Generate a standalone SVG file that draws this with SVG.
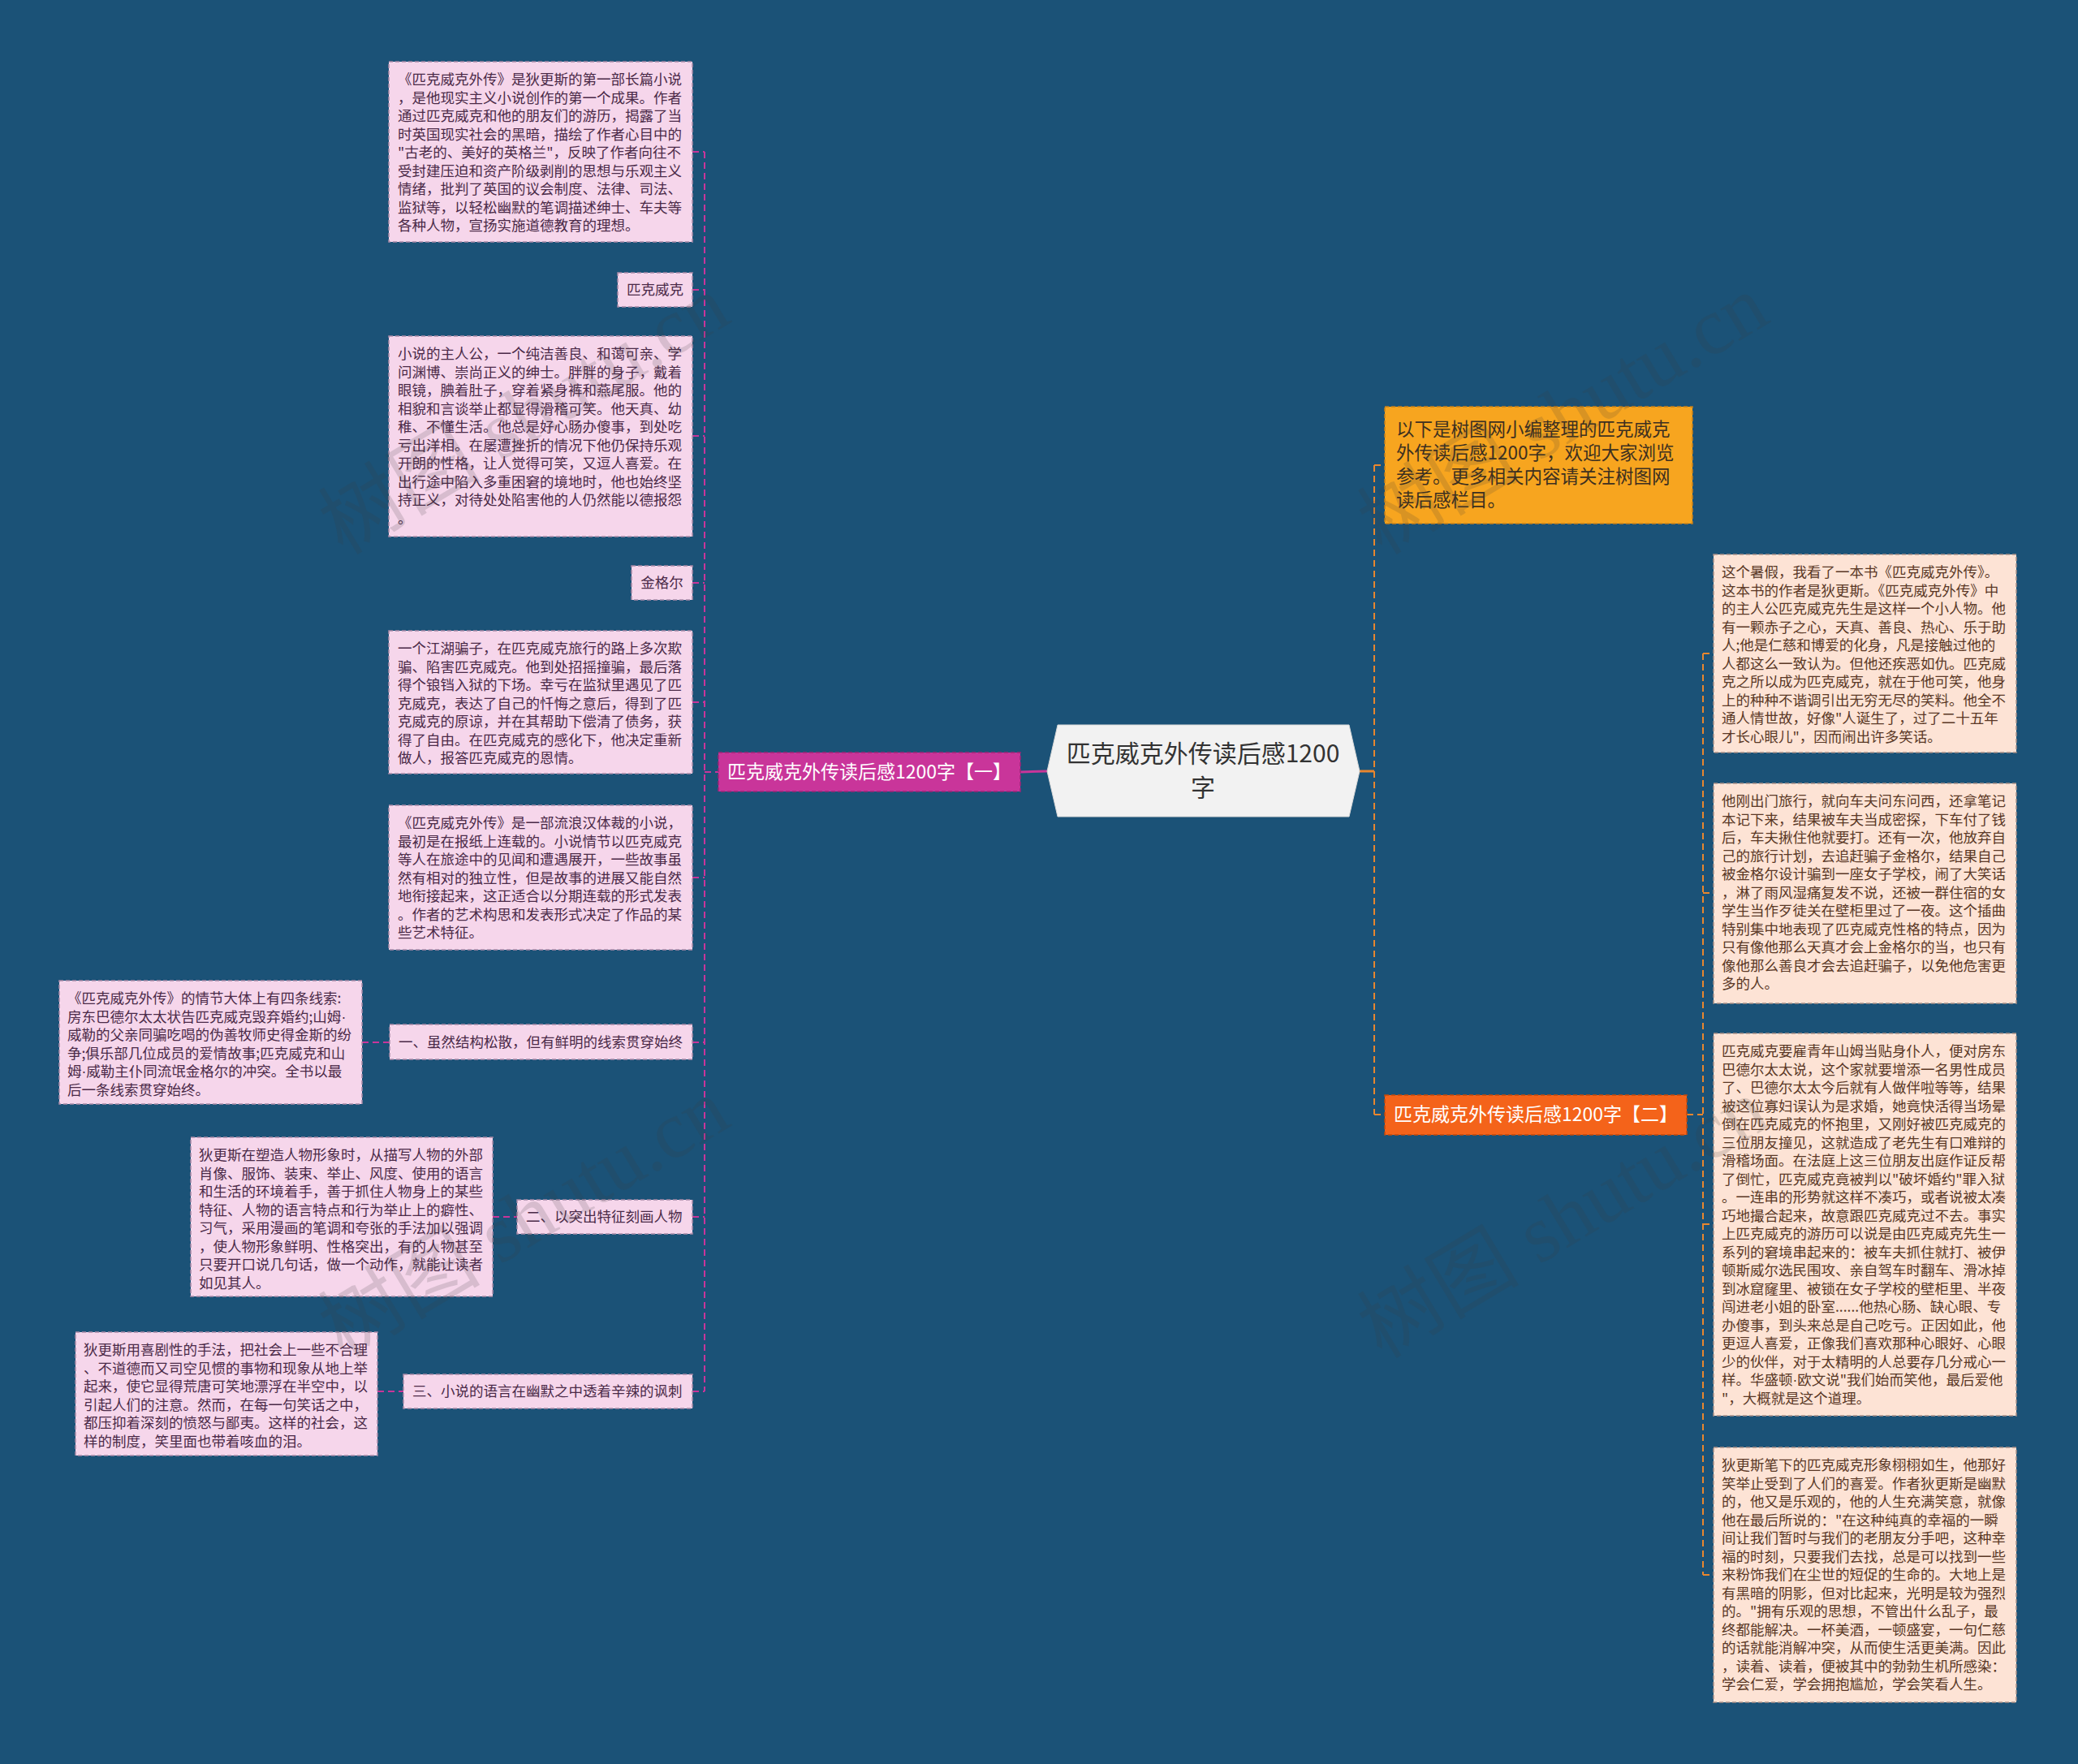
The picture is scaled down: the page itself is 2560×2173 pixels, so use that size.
<svg xmlns="http://www.w3.org/2000/svg" width="2560" height="2173" viewBox="0 0 2560 2173">
<style>
.lbox{fill:#f6d6eb;stroke:#a88aa8;stroke-width:1.5;stroke-dasharray:5 3}
.rbox{fill:#fde3d5;stroke:#a89088;stroke-width:1.5;stroke-dasharray:5 3}
.f{font-family:"Noto Sans CJK SC","Noto Sans",sans-serif}
.t{font-family:"Noto Sans CJK SC","Noto Sans",sans-serif;font-size:17.5px}
.lt{fill:#4b2a48}
.rt{fill:#5a3826}
.dot{font-family:"Liberation Sans",sans-serif}
.cm{stroke:#c9359a;stroke-width:2;stroke-dasharray:8 5;fill:none}
.co{stroke:#e8862e;stroke-width:2;stroke-dasharray:8 5;fill:none}
.wm{font-family:"Liberation Serif","Noto Sans CJK SC",serif;font-size:100px;fill:#3c3c3c;opacity:0.16}
</style>
<rect width="2560" height="2173" fill="#1b5277"/>

<g id="connectors">
  <line x1="1257" y1="951" x2="1290" y2="950" stroke="#c9359a" stroke-width="3"/>
  <line class="cm" x1="868" y1="951" x2="885" y2="951"/>
  <line class="cm" x1="868" y1="187" x2="868" y2="1714"/>
  <line class="cm" x1="853" y1="187" x2="868" y2="187"/>
  <line class="cm" x1="853" y1="357" x2="868" y2="357"/>
  <line class="cm" x1="853" y1="537" x2="868" y2="537"/>
  <line class="cm" x1="853" y1="718" x2="868" y2="718"/>
  <line class="cm" x1="853" y1="865" x2="868" y2="865"/>
  <line class="cm" x1="853" y1="1081" x2="868" y2="1081"/>
  <line class="cm" x1="853" y1="1284" x2="868" y2="1284"/>
  <line class="cm" x1="853" y1="1499" x2="868" y2="1499"/>
  <line class="cm" x1="853" y1="1714" x2="868" y2="1714"/>
  <line class="cm" x1="446" y1="1284" x2="480" y2="1284"/>
  <line class="cm" x1="607" y1="1499" x2="637" y2="1499"/>
  <line class="cm" x1="465" y1="1714" x2="497" y2="1714"/>
  <line x1="1675" y1="950" x2="1693" y2="950" stroke="#e8862e" stroke-width="3"/>
  <line class="co" x1="1693" y1="573" x2="1693" y2="1373"/>
  <line class="co" x1="1693" y1="573" x2="1706" y2="573" stroke="#f0a020"/>
  <line class="co" x1="1693" y1="1373" x2="1706" y2="1373"/>
  <line class="co" x1="2078" y1="1373" x2="2098" y2="1373"/>
  <line class="co" x1="2098" y1="805" x2="2098" y2="1940"/>
  <line class="co" x1="2098" y1="805" x2="2111" y2="805"/>
  <line class="co" x1="2098" y1="1100" x2="2111" y2="1100"/>
  <line class="co" x1="2098" y1="1508" x2="2111" y2="1508"/>
  <line class="co" x1="2098" y1="1940" x2="2111" y2="1940"/>
</g>

<g id="center">
  <polygon points="1290,950 1303,893 1662,893 1675,950 1662,1006 1303,1006" fill="#f2f2f2" stroke="#d8d8d8" stroke-width="1"/>
  <text class="f" x="1482" y="939" text-anchor="middle" font-size="30" fill="#333333">匹克威克外传读后感1200</text>
  <text class="f" x="1482" y="981" text-anchor="middle" font-size="30" fill="#333333">字</text>
</g>

<g id="branch1">
  <rect x="885" y="927" width="372" height="48" fill="#c9359a" stroke="#9e2578" stroke-width="1.5" stroke-dasharray="5 3"/>
  <text class="f" x="1071" y="959" text-anchor="middle" font-size="23" fill="#ffffff">匹克威克外传读后感1200字【一】</text>
</g>

<g id="branch2">
  <rect x="1706" y="1349" width="372" height="49" fill="#f4631a" stroke="#c24a0c" stroke-width="1.5" stroke-dasharray="5 3"/>
  <text class="f" x="1892" y="1381" text-anchor="middle" font-size="23" fill="#ffffff">匹克威克外传读后感1200字【二】</text>
</g>

<g id="intro">
  <rect x="1706" y="501" width="379" height="144" fill="#f7a51f" stroke="#c7801a" stroke-width="1.5" stroke-dasharray="5 3"/>
  <text class="f" font-size="22.5" fill="#3d3020">
    <tspan x="1720" y="537">以下是树图网小编整理的匹克威克</tspan>
    <tspan x="1720" y="566">外传读后感1200字，欢迎大家浏览</tspan>
    <tspan x="1720" y="595">参考。更多相关内容请关注树图网</tspan>
    <tspan x="1720" y="624">读后感栏目。</tspan>
  </text>
</g>

<g id="boxA">
  <rect class="lbox" x="479" y="76" width="374" height="222"/>
  <text class="t lt">
    <tspan x="490" y="104">《匹克威克外传》是狄更斯的第一部长篇小说</tspan>
    <tspan x="490" y="126.5">，是他现实主义小说创作的第一个成果。作者</tspan>
    <tspan x="490" y="149">通过匹克威克和他的朋友们的游历，揭露了当</tspan>
    <tspan x="490" y="171.5">时英国现实社会的黑暗，描绘了作者心目中的</tspan>
    <tspan x="490" y="194">"古老的、美好的英格兰"，反映了作者向往不</tspan>
    <tspan x="490" y="216.5">受封建压迫和资产阶级剥削的思想与乐观主义</tspan>
    <tspan x="490" y="239">情绪，批判了英国的议会制度、法律、司法、</tspan>
    <tspan x="490" y="261.5">监狱等，以轻松幽默的笔调描述绅士、车夫等</tspan>
    <tspan x="490" y="284">各种人物，宣扬实施道德教育的理想。</tspan>
  </text>
</g>

<g id="pickwick">
  <rect class="lbox" x="761" y="336" width="92" height="42"/>
  <text class="t lt" x="807" y="363" text-anchor="middle">匹克威克</text>
</g>

<g id="boxB">
  <rect class="lbox" x="479" y="414" width="374" height="247"/>
  <text class="t lt">
    <tspan x="490" y="442">小说的主人公，一个纯洁善良、和蔼可亲、学</tspan>
    <tspan x="490" y="464.5">问渊博、崇尚正义的绅士。胖胖的身子，戴着</tspan>
    <tspan x="490" y="487">眼镜，腆着肚子，穿着紧身裤和燕尾服。他的</tspan>
    <tspan x="490" y="509.5">相貌和言谈举止都显得滑稽可笑。他天真、幼</tspan>
    <tspan x="490" y="532">稚、不懂生活。他总是好心肠办傻事，到处吃</tspan>
    <tspan x="490" y="554.5">亏出洋相。在屡遭挫折的情况下他仍保持乐观</tspan>
    <tspan x="490" y="577">开朗的性格，让人觉得可笑，又逗人喜爱。在</tspan>
    <tspan x="490" y="599.5">出行途中陷入多重困窘的境地时，他也始终坚</tspan>
    <tspan x="490" y="622">持正义，对待处处陷害他的人仍然能以德报怨</tspan>
    <tspan x="490" y="644.5">。</tspan>
  </text>
</g>

<g id="jingle">
  <rect class="lbox" x="778" y="697" width="75" height="42"/>
  <text class="t lt" x="815.5" y="724" text-anchor="middle">金格尔</text>
</g>

<g id="boxC">
  <rect class="lbox" x="479" y="777" width="374" height="176"/>
  <text class="t lt">
    <tspan x="490" y="805">一个江湖骗子，在匹克威克旅行的路上多次欺</tspan>
    <tspan x="490" y="827.5">骗、陷害匹克威克。他到处招摇撞骗，最后落</tspan>
    <tspan x="490" y="850">得个锒铛入狱的下场。幸亏在监狱里遇见了匹</tspan>
    <tspan x="490" y="872.5">克威克，表达了自己的忏悔之意后，得到了匹</tspan>
    <tspan x="490" y="895">克威克的原谅，并在其帮助下偿清了债务，获</tspan>
    <tspan x="490" y="917.5">得了自由。在匹克威克的感化下，他决定重新</tspan>
    <tspan x="490" y="940">做人，报答匹克威克的恩情。</tspan>
  </text>
</g>

<g id="boxD">
  <rect class="lbox" x="479" y="992" width="374" height="178"/>
  <text class="t lt">
    <tspan x="490" y="1020">《匹克威克外传》是一部流浪汉体裁的小说，</tspan>
    <tspan x="490" y="1042.5">最初是在报纸上连载的。小说情节以匹克威克</tspan>
    <tspan x="490" y="1065">等人在旅途中的见闻和遭遇展开，一些故事虽</tspan>
    <tspan x="490" y="1087.5">然有相对的独立性，但是故事的进展又能自然</tspan>
    <tspan x="490" y="1110">地衔接起来，这正适合以分期连载的形式发表</tspan>
    <tspan x="490" y="1132.5">。作者的艺术构思和发表形式决定了作品的某</tspan>
    <tspan x="490" y="1155">些艺术特征。</tspan>
  </text>
</g>

<g id="point1">
  <rect class="lbox" x="480" y="1262" width="373" height="43"/>
  <text class="t lt" x="491" y="1290">一、虽然结构松散，但有鲜明的线索贯穿始终</text>
</g>

<g id="boxE">
  <rect class="lbox" x="73" y="1208" width="373" height="152"/>
  <text class="t lt">
    <tspan x="83" y="1236">《匹克威克外传》的情节大体上有四条线索:</tspan>
    <tspan x="83" y="1258.5">房东巴德尔太太状告匹克威克毁弃婚约;山姆<tspan class="dot">·</tspan></tspan>
    <tspan x="83" y="1281">威勒的父亲同骗吃喝的伪善牧师史得金斯的纷</tspan>
    <tspan x="83" y="1303.5">争;俱乐部几位成员的爱情故事;匹克威克和山</tspan>
    <tspan x="83" y="1326">姆<tspan class="dot">·</tspan>威勒主仆同流氓金格尔的冲突。全书以最</tspan>
    <tspan x="83" y="1348.5">后一条线索贯穿始终。</tspan>
  </text>
</g>

<g id="point2">
  <rect class="lbox" x="637" y="1478" width="216" height="42"/>
  <text class="t lt" x="648" y="1505">二、以突出特征刻画人物</text>
</g>

<g id="boxF">
  <rect class="lbox" x="235" y="1401" width="372" height="196"/>
  <text class="t lt">
    <tspan x="245" y="1429">狄更斯在塑造人物形象时，从描写人物的外部</tspan>
    <tspan x="245" y="1451.5">肖像、服饰、装束、举止、风度、使用的语言</tspan>
    <tspan x="245" y="1474">和生活的环境着手，善于抓住人物身上的某些</tspan>
    <tspan x="245" y="1496.5">特征、人物的语言特点和行为举止上的癖性、</tspan>
    <tspan x="245" y="1519">习气，采用漫画的笔调和夸张的手法加以强调</tspan>
    <tspan x="245" y="1541.5">，使人物形象鲜明、性格突出，有的人物甚至</tspan>
    <tspan x="245" y="1564">只要开口说几句话，做一个动作，就能让读者</tspan>
    <tspan x="245" y="1586.5">如见其人。</tspan>
  </text>
</g>

<g id="point3">
  <rect class="lbox" x="497" y="1693" width="356" height="42"/>
  <text class="t lt" x="508" y="1720">三、小说的语言在幽默之中透着辛辣的讽刺</text>
</g>

<g id="boxG">
  <rect class="lbox" x="93" y="1641" width="372" height="152"/>
  <text class="t lt">
    <tspan x="103" y="1669">狄更斯用喜剧性的手法，把社会上一些不合理</tspan>
    <tspan x="103" y="1691.5">、不道德而又司空见惯的事物和现象从地上举</tspan>
    <tspan x="103" y="1714">起来，使它显得荒唐可笑地漂浮在半空中，以</tspan>
    <tspan x="103" y="1736.5">引起人们的注意。然而，在每一句笑话之中，</tspan>
    <tspan x="103" y="1759">都压抑着深刻的愤怒与鄙夷。这样的社会，这</tspan>
    <tspan x="103" y="1781.5">样的制度，笑里面也带着咳血的泪。</tspan>
  </text>
</g>

<g id="boxR1">
  <rect class="rbox" x="2111" y="683" width="373" height="244"/>
  <text class="t rt">
    <tspan x="2121" y="711">这个暑假，我看了一本书《匹克威克外传》。</tspan>
    <tspan x="2121" y="733.5">这本书的作者是狄更斯。《匹克威克外传》中</tspan>
    <tspan x="2121" y="756">的主人公匹克威克先生是这样一个小人物。他</tspan>
    <tspan x="2121" y="778.5">有一颗赤子之心，天真、善良、热心、乐于助</tspan>
    <tspan x="2121" y="801">人;他是仁慈和博爱的化身，凡是接触过他的</tspan>
    <tspan x="2121" y="823.5">人都这么一致认为。但他还疾恶如仇。匹克威</tspan>
    <tspan x="2121" y="846">克之所以成为匹克威克，就在于他可笑，他身</tspan>
    <tspan x="2121" y="868.5">上的种种不谐调引出无穷无尽的笑料。他全不</tspan>
    <tspan x="2121" y="891">通人情世故，好像"人诞生了，过了二十五年</tspan>
    <tspan x="2121" y="913.5">才长心眼儿"，因而闹出许多笑话。</tspan>
  </text>
</g>

<g id="boxR2">
  <rect class="rbox" x="2111" y="965" width="373" height="271"/>
  <text class="t rt">
    <tspan x="2121" y="993">他刚出门旅行，就向车夫问东问西，还拿笔记</tspan>
    <tspan x="2121" y="1015.5">本记下来，结果被车夫当成密探，下车付了钱</tspan>
    <tspan x="2121" y="1038">后，车夫揪住他就要打。还有一次，他放弃自</tspan>
    <tspan x="2121" y="1060.5">己的旅行计划，去追赶骗子金格尔，结果自己</tspan>
    <tspan x="2121" y="1083">被金格尔设计骗到一座女子学校，闹了大笑话</tspan>
    <tspan x="2121" y="1105.5">，淋了雨风湿痛复发不说，还被一群住宿的女</tspan>
    <tspan x="2121" y="1128">学生当作歹徒关在壁柜里过了一夜。这个插曲</tspan>
    <tspan x="2121" y="1150.5">特别集中地表现了匹克威克性格的特点，因为</tspan>
    <tspan x="2121" y="1173">只有像他那么天真才会上金格尔的当，也只有</tspan>
    <tspan x="2121" y="1195.5">像他那么善良才会去追赶骗子，以免他危害更</tspan>
    <tspan x="2121" y="1218">多的人。</tspan>
  </text>
</g>

<g id="boxR3">
  <rect class="rbox" x="2111" y="1273" width="373" height="471"/>
  <text class="t rt">
    <tspan x="2121" y="1301">匹克威克要雇青年山姆当贴身仆人，便对房东</tspan>
    <tspan x="2121" y="1323.5">巴德尔太太说，这个家就要增添一名男性成员</tspan>
    <tspan x="2121" y="1346">了、巴德尔太太今后就有人做伴啦等等，结果</tspan>
    <tspan x="2121" y="1368.5">被这位寡妇误认为是求婚，她竟快活得当场晕</tspan>
    <tspan x="2121" y="1391">倒在匹克威克的怀抱里，又刚好被匹克威克的</tspan>
    <tspan x="2121" y="1413.5">三位朋友撞见，这就造成了老先生有口难辩的</tspan>
    <tspan x="2121" y="1436">滑稽场面。在法庭上这三位朋友出庭作证反帮</tspan>
    <tspan x="2121" y="1458.5">了倒忙，匹克威克竟被判以"破坏婚约"罪入狱</tspan>
    <tspan x="2121" y="1481">。一连串的形势就这样不凑巧，或者说被太凑</tspan>
    <tspan x="2121" y="1503.5">巧地撮合起来，故意跟匹克威克过不去。事实</tspan>
    <tspan x="2121" y="1526">上匹克威克的游历可以说是由匹克威克先生一</tspan>
    <tspan x="2121" y="1548.5">系列的窘境串起来的：被车夫抓住就打、被伊</tspan>
    <tspan x="2121" y="1571">顿斯威尔选民围攻、亲自驾车时翻车、滑冰掉</tspan>
    <tspan x="2121" y="1593.5">到冰窟窿里、被锁在女子学校的壁柜里、半夜</tspan>
    <tspan x="2121" y="1616">闯进老小姐的卧室......他热心肠、缺心眼、专</tspan>
    <tspan x="2121" y="1638.5">办傻事，到头来总是自己吃亏。正因如此，他</tspan>
    <tspan x="2121" y="1661">更逗人喜爱，正像我们喜欢那种心眼好、心眼</tspan>
    <tspan x="2121" y="1683.5">少的伙伴，对于太精明的人总要存几分戒心一</tspan>
    <tspan x="2121" y="1706">样。华盛顿<tspan class="dot">·</tspan>欧文说"我们始而笑他，最后爱他</tspan>
    <tspan x="2121" y="1728.5">"，大概就是这个道理。</tspan>
  </text>
</g>

<g id="boxR4">
  <rect class="rbox" x="2111" y="1783" width="373" height="314"/>
  <text class="t rt">
    <tspan x="2121" y="1811">狄更斯笔下的匹克威克形象栩栩如生，他那好</tspan>
    <tspan x="2121" y="1833.5">笑举止受到了人们的喜爱。作者狄更斯是幽默</tspan>
    <tspan x="2121" y="1856">的，他又是乐观的，他的人生充满笑意，就像</tspan>
    <tspan x="2121" y="1878.5">他在最后所说的："在这种纯真的幸福的一瞬</tspan>
    <tspan x="2121" y="1901">间让我们暂时与我们的老朋友分手吧，这种幸</tspan>
    <tspan x="2121" y="1923.5">福的时刻，只要我们去找，总是可以找到一些</tspan>
    <tspan x="2121" y="1946">来粉饰我们在尘世的短促的生命的。大地上是</tspan>
    <tspan x="2121" y="1968.5">有黑暗的阴影，但对比起来，光明是较为强烈</tspan>
    <tspan x="2121" y="1991">的。"拥有乐观的思想，不管出什么乱子，最</tspan>
    <tspan x="2121" y="2013.5">终都能解决。一杯美酒，一顿盛宴，一句仁慈</tspan>
    <tspan x="2121" y="2036">的话就能消解冲突，从而使生活更美满。因此</tspan>
    <tspan x="2121" y="2058.5">，读着、读着，便被其中的勃勃生机所感染：</tspan>
    <tspan x="2121" y="2081">学会仁爱，学会拥抱尴尬，学会笑看人生。</tspan>
  </text>
</g>

<g id="watermark">
  <text class="wm" x="645" y="545" text-anchor="middle" transform="rotate(-31 645 510)">树图 shutu.cn</text>
  <text class="wm" x="645" y="1535" text-anchor="middle" transform="rotate(-31 645 1500)">树图 shutu.cn</text>
  <text class="wm" x="1925" y="545" text-anchor="middle" transform="rotate(-31 1925 510)">树图 shutu.cn</text>
  <text class="wm" x="1925" y="1535" text-anchor="middle" transform="rotate(-31 1925 1500)">树图 shutu.cn</text>
</g>
</svg>
